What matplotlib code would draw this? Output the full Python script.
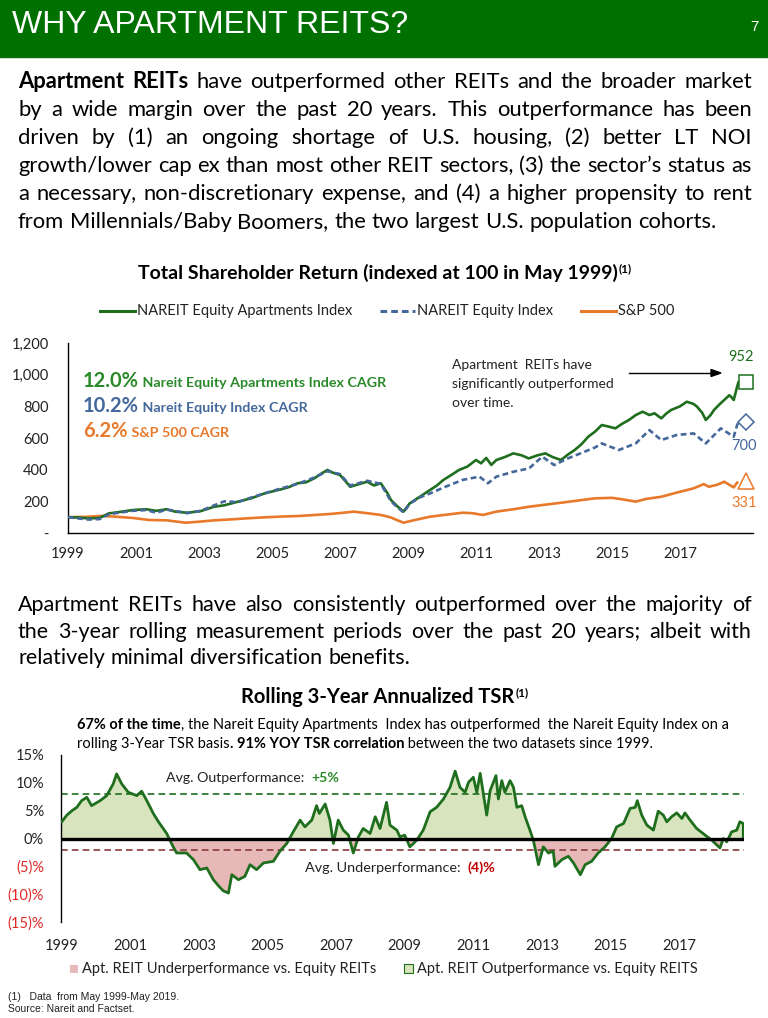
import numpy as np
import matplotlib.pyplot as plt
from matplotlib.patches import Rectangle
from matplotlib.lines import Line2D

W, H = 768, 1018
BODY = ["Lato", "DejaVu Sans"]
NARROW = ["Liberation Sans Narrow", "Liberation Sans", "DejaVu Sans"]

HDR_GREEN = "#007000"
APT_GREEN = "#1E6E1E"
TXT_GREEN = "#2A8A2A"
REIT_BLUE = "#44689C"
SP_ORANGE = "#E8792A"
NEG_RED = "#E02828"
DARK_RED = "#C00000"
FILL_GREEN = "#D7E4BD"
FILL_RED = "#E6B9B8"

# ---- chart 1: total shareholder return, indexed at 100 (x = decimal year) ----
apt_x = [1999.0, 1999.3, 1999.6, 1999.93, 2000.2, 2000.5, 2000.9, 2001.3, 2001.6, 2001.9,
         2002.15, 2002.5, 2002.9, 2003.3, 2003.6, 2004.0, 2004.4, 2004.78, 2005.0, 2005.27,
         2005.5, 2005.75, 2006.0, 2006.24, 2006.45, 2006.63, 2006.8, 2007.0, 2007.15, 2007.3,
         2007.5, 2007.8, 2008.0, 2008.2, 2008.4, 2008.5, 2008.7, 2008.87, 2009.05, 2009.35,
         2009.65, 2009.85, 2010.04, 2010.3, 2010.5, 2010.75, 2011.0, 2011.15, 2011.3, 2011.45,
         2011.6, 2011.85, 2012.1, 2012.35, 2012.55, 2012.8, 2013.04, 2013.25, 2013.5, 2013.7,
         2013.9, 2014.1, 2014.3, 2014.5, 2014.7, 2014.9, 2015.1, 2015.3, 2015.5, 2015.7,
         2015.9, 2016.1, 2016.25, 2016.45, 2016.6, 2016.74, 2017.0, 2017.2, 2017.4, 2017.5,
         2017.65, 2017.76, 2017.9, 2018.0, 2018.15, 2018.3, 2018.45, 2018.5, 2018.58, 2018.68,
         2018.72]
apt_v = [100, 98, 92, 95, 124, 132, 145, 150, 140, 150,
         135, 128, 138, 166, 175, 198, 220, 250, 262, 276,
         290, 314, 320, 345, 375, 398, 380, 366, 330, 292,
         305, 324, 300, 314, 250, 208, 166, 135, 187, 229,
         272, 300, 335, 370, 398, 420, 461, 440, 474, 430,
         461, 480, 503, 490, 471, 490, 503, 480, 461, 495,
         524, 560, 608, 640, 682, 672, 661, 690, 714, 745,
         766, 745, 756, 724, 755, 777, 800, 829, 815, 798,
         760, 714, 745, 777, 810, 840, 870, 861, 840, 924,
         952]

reit_x = [1999.0, 1999.3, 1999.6, 1999.93, 2000.2, 2000.5, 2000.9, 2001.3, 2001.6, 2001.9,
          2002.15, 2002.5, 2002.9, 2003.3, 2003.6, 2004.0, 2004.4, 2004.78, 2005.27, 2005.75,
          2006.24, 2006.63, 2007.0, 2007.3, 2007.8, 2008.2, 2008.5, 2008.7, 2008.87, 2009.05,
          2009.35, 2009.65, 2010.1, 2010.6, 2011.1, 2011.35, 2011.6, 2012.1, 2012.56, 2012.95,
          2013.3, 2013.7, 2014.2, 2014.5, 2014.7, 2015.2, 2015.7, 2016.1, 2016.45, 2016.9,
          2017.4, 2017.76, 2018.2, 2018.58, 2018.68, 2018.72]
reit_v = [100, 92, 85, 88, 118, 128, 140, 145, 128, 148,
          140, 125, 140, 175, 200, 195, 225, 250, 282, 310,
          350, 390, 372, 300, 330, 310, 200, 160, 130, 185,
          225, 250, 292, 335, 356, 314, 356, 387, 408, 482,
          429, 471, 514, 540, 566, 524, 566, 650, 587, 619,
          629, 566, 661, 608, 682, 700]

sp_x = [1999.0, 1999.5, 2000.0, 2000.4, 2000.9, 2001.4, 2001.9, 2002.46, 2002.84, 2003.3,
        2003.8, 2004.3, 2004.78, 2005.3, 2005.75, 2006.2, 2006.7, 2007.1, 2007.4, 2007.8,
        2008.2, 2008.5, 2008.67, 2008.87, 2009.2, 2009.65, 2010.1, 2010.6, 2010.9, 2011.2,
        2011.6, 2012.1, 2012.56, 2013.0, 2013.5, 2014.0, 2014.5, 2015.0, 2015.3, 2015.7,
        2016.0, 2016.45, 2016.9, 2017.4, 2017.7, 2017.85, 2018.1, 2018.3, 2018.58, 2018.68]
sp_v = [100, 102, 108, 103, 95, 82, 80, 65, 71, 80,
        86, 93, 99, 104, 107, 113, 120, 128, 135, 125,
        114, 98, 82, 65, 82, 103, 115, 128, 125, 114,
        135, 150, 166, 178, 191, 205, 219, 222, 213, 198,
        215, 229, 255, 282, 309, 292, 305, 324, 288, 318]

end_values = [952, 700, 331]
cagr_pct = ["12.0%", "10.2%", "6.2%"]
cagr_names = ["Nareit Equity Apartments Index CAGR", "Nareit Equity Index CAGR", "S&P 500 CAGR"]
series_names = ["NAREIT Equity Apartments Index", "NAREIT Equity Index", "S&P 500"]
tsr_ticks = [0, 200, 400, 600, 800, 1000, 1200]
tsr_tick_labels = ["-", "200", "400", "600", "800", "1,000", "1,200"]
year_ticks = list(range(1999, 2018, 2))

# ---- chart 2: rolling 3-year annualized TSR spread (%) ----
roll_x = [1999.0, 1999.15, 1999.3, 1999.44, 1999.58, 1999.73, 1999.87, 2000.12, 2000.31, 2000.5,
          2000.6, 2000.75, 2000.94, 2001.19, 2001.33, 2001.48, 2001.67, 2001.82, 2002.06, 2002.25,
          2002.35, 2002.64, 2002.84, 2003.03, 2003.23, 2003.42, 2003.57, 2003.71, 2003.86, 2003.96,
          2004.15, 2004.34, 2004.49, 2004.68, 2004.88, 2005.17, 2005.36, 2005.56, 2005.75, 2005.95,
          2006.09, 2006.29, 2006.43, 2006.51, 2006.68, 2006.82, 2006.92, 2007.06, 2007.21, 2007.36,
          2007.5, 2007.65, 2007.79, 2007.99, 2008.14, 2008.28, 2008.47, 2008.57, 2008.77, 2008.86,
          2009.0, 2009.15, 2009.35, 2009.54, 2009.74, 2009.93, 2010.13, 2010.32, 2010.47, 2010.61,
          2010.76, 2010.86, 2011.0, 2011.1, 2011.2, 2011.39, 2011.49, 2011.66, 2011.73, 2011.83,
          2011.92, 2012.07, 2012.17, 2012.27, 2012.41, 2012.51, 2012.65, 2012.75, 2012.9, 2013.04,
          2013.19, 2013.33, 2013.38, 2013.58, 2013.77, 2013.92, 2014.12, 2014.26, 2014.45, 2014.64,
          2014.84, 2015.03, 2015.18, 2015.38, 2015.57, 2015.72, 2015.78, 2015.91, 2016.06, 2016.25,
          2016.39, 2016.54, 2016.64, 2016.78, 2016.93, 2017.08, 2017.17, 2017.32, 2017.51, 2017.7,
          2017.95, 2018.19, 2018.29, 2018.39, 2018.53, 2018.68, 2018.77, 2018.87]
roll_v = [3.0, 4.2, 5.0, 5.6, 6.8, 7.4, 5.9, 6.8, 7.7, 9.8,
          11.6, 9.8, 8.3, 7.7, 8.5, 6.8, 4.5, 3.0, 0.9, -1.5,
          -2.6, -2.6, -3.8, -5.6, -5.3, -7.4, -8.5, -9.4, -9.8, -6.5,
          -7.4, -6.8, -4.7, -5.6, -4.4, -4.1, -2.3, -0.9, 1.2, 3.3,
          2.1, 3.3, 5.9, 4.5, 6.2, 3.3, -0.9, 3.3, 1.5, 0.6,
          -2.6, 0.3, 1.8, 0.9, 3.9, 1.8, 6.5, 2.4, 1.5, 0.3,
          0.6, -1.5, -0.3, 1.5, 4.8, 5.6, 7.1, 9.2, 12.1, 9.2,
          8.3, 10.1, 11.0, 8.3, 11.7, 4.2, 8.6, 11.3, 7.1, 10.4,
          8.3, 10.4, 9.2, 5.6, 5.9, 3.9, 1.5, -0.3, -4.7, -1.5,
          -2.6, -2.3, -5.0, -3.8, -3.2, -4.4, -6.5, -4.7, -4.1, -2.6,
          -1.5, 0.0, 2.1, 2.7, 5.4, 5.6, 6.8, 4.2, 2.4, 1.5,
          4.9, 4.2, 3.0, 3.9, 4.6, 3.6, 4.6, 3.3, 1.8, 0.9,
          -0.3, -1.7, 0.0, -0.6, 1.2, 1.5, 3.0, 2.7]
avg_out_line = 8.0
avg_under_line = -2.0
roll_ticks = [15, 10, 5, 0, -5, -10, -15]
roll_tick_labels = ["15%", "10%", "5%", "0%", "(5)%", "(10)%", "(15)%"]

para1 = [
    ("**Apartment **REITs have outperformed other REITs and the broader market", True),
    ("by a wide margin over the past 20 years. This outperformance has been", True),
    ("driven by (1) an ongoing shortage of U.S. housing, (2) better LT NOI", True),
    ("growth/lower cap ex than most other REIT sectors, (3) the sector\u2019s status as", True),
    ("a necessary, non-discretionary expense, and (4) a higher propensity to rent", True),
    ("from Millennials/Baby Boomers, the two largest U.S. population cohorts.", False),
]
para2 = [
    ("Apartment REITs have also consistently outperformed over the majority of", True),
    ("the 3-year rolling measurement periods over the past 20 years; albeit with", True),
    ("relatively minimal diversification benefits.", False),
]

fig = plt.figure(figsize=(W / 100, H / 100), dpi=100)
rend = fig.canvas.get_renderer()


def fx(x):
    return x / W


def fy(y):
    return 1 - y / H


def runs(x, y, pieces, ha="left"):
    # pieces: (text, size, bold, color, family) placed side by side on one baseline
    objs = []
    for txt, size, bold, color, fam in pieces:
        t = fig.text(0, fy(y), txt, fontsize=size, fontweight="bold" if bold else "normal",
                     color=color, family=fam, va="baseline", ha="left")
        objs.append(t)
    widths = [o.get_window_extent(rend).width for o in objs]
    total = sum(widths)
    if ha == "center":
        x = x - total / 2
    for o, w in zip(objs, widths):
        o.set_x(fx(x))
        x += w
    return x


def para_line(line, y, x0, x1, size, justify):
    words = line.split(" ")
    bold_first = False
    if words[0].startswith("**"):
        words = ["Apartment", "REITs"] + line.split("**")[2].split(" ")[1:]
        bold_first = True
    objs = []
    for i, w in enumerate(words):
        b = bold_first and i < 2
        objs.append(fig.text(0, fy(y), w, fontsize=size, fontweight="bold" if b else "normal",
                             color="black", family=BODY, va="baseline", ha="left"))
    widths = [o.get_window_extent(rend).width for o in objs]
    if justify:
        gap = (x1 - x0 - sum(widths)) / (len(words) - 1)
    else:
        a = fig.text(0, 0, "a a", fontsize=size, family=BODY)
        b = fig.text(0, 0, "aa", fontsize=size, family=BODY)
        gap = a.get_window_extent(rend).width - b.get_window_extent(rend).width
        a.remove()
        b.remove()
    x = x0
    for o, w in zip(objs, widths):
        o.set_x(fx(x))
        x += w + gap


# header bar
fig.patches.append(Rectangle((0, fy(57)), 1, 57 / H, transform=fig.transFigure,
                             color=HDR_GREEN, zorder=0))
fig.text(fx(12), fy(25), "WHY APARTMENT REITS?", color="white", fontsize=23,
         family=NARROW, va="center", ha="left")
fig.text(fx(754), fy(27), "7", color="white", fontsize=11, family=NARROW,
         va="center", ha="center")

# paragraphs
for i, (line, just) in enumerate(para1):
    para_line(line, 88 + 28 * i, 18, 752, 15.8, just)
for i, (line, just) in enumerate(para2):
    para_line(line, 611 + 26.5 * i, 18, 752, 15.5, just)

# ---- chart 1 ----
ax1 = fig.add_axes([fx(68), fy(533), fx(753 - 68), (533 - 343) / H])
ax1.plot(sp_x, sp_v, color=SP_ORANGE, lw=1.9, zorder=2)
ax1.plot(apt_x, apt_v, color=APT_GREEN, lw=1.9, zorder=3)
ax1.plot(reit_x, reit_v, color=REIT_BLUE, lw=1.9, ls=(0, (2.2, 1.3)), zorder=4)
end_x = 2018.93
ax1.plot([end_x], [end_values[0]], marker="s", ms=10, mfc="white", mec=APT_GREEN, mew=1.1, clip_on=False, zorder=5)
ax1.plot([end_x], [end_values[1]], marker="D", ms=8, mfc="white", mec=REIT_BLUE, mew=1.1, clip_on=False, zorder=5)
ax1.plot([end_x], [end_values[2]], marker="^", ms=11, mfc="white", mec=SP_ORANGE, mew=1.1, clip_on=False, zorder=5)
ax1.text(end_x - 0.15, end_values[0] + 160, str(end_values[0]), color=APT_GREEN, fontsize=10.5, family=BODY, ha="center", va="center")
ax1.text(end_x - 0.05, end_values[1] - 150, str(end_values[1]), color=REIT_BLUE, fontsize=10.5, family=BODY, ha="center", va="center")
ax1.text(end_x - 0.05, end_values[2] - 140, str(end_values[2]), color=SP_ORANGE, fontsize=10.5, family=BODY, ha="center", va="center")
ax1.set_xlim(1999, 1999 + (753 - 68) / 34.0)
ax1.set_ylim(0, 1200)
ax1.set_xticks(year_ticks)
ax1.set_xticklabels([str(y) for y in year_ticks])
ax1.set_yticks(tsr_ticks)
ax1.set_yticklabels(tsr_tick_labels)
ax1.tick_params(length=0, labelsize=10.5, colors="#222222")
ax1.tick_params(axis="x", pad=10)
ax1.tick_params(axis="y", pad=14)
for lab in ax1.get_xticklabels() + ax1.get_yticklabels():
    lab.set_family(BODY)
for s in ["top", "right"]:
    ax1.spines[s].set_visible(False)
for s in ["left", "bottom"]:
    ax1.spines[s].set_linewidth(1.0)
    ax1.spines[s].set_color("black")
ax1.patch.set_alpha(0)

# chart 1 title and legend
xe = runs(378, 279, [("Total Shareholder Return (indexed at 100 in May 1999)", 14, True, "black", BODY)], ha="center")
runs(xe + 1, 272, [("(1)", 8.5, True, "black", BODY)])
leg_items = [(100, APT_GREEN, "-"), (380, REIT_BLUE, (0, (2.2, 1.3))), (581, SP_ORANGE, "-")]
for (lx, c, ls), name in zip(leg_items, series_names):
    fig.add_artist(Line2D([fx(lx), fx(lx + 35)], [fy(311), fy(311)], color=c, lw=2.2, ls=ls,
                          transform=fig.transFigure))
    runs(lx + 37, 315, [(name, 10.5, False, "#222222", BODY)])

# CAGR notes
cagr_colors = [TXT_GREEN, REIT_BLUE, SP_ORANGE]
for i in range(3):
    runs(83, 387 + 25 * i, [(cagr_pct[i], 14.5, True, cagr_colors[i], BODY),
                            (" " + cagr_names[i], 10.3, True, cagr_colors[i], BODY)])

# call-out
for i, line in enumerate(["Apartment  REITs have", "significantly outperformed", "over time."]):
    runs(452, 369 + 19 * i, [(line, 10, False, "#222222", BODY)])
fig.add_artist(Line2D([fx(629), fx(712)], [fy(373), fy(373)], color="black", lw=1,
                      transform=fig.transFigure))
fig.patches.append(plt.Polygon([[fx(711), fy(369.5)], [fx(721), fy(373)], [fx(711), fy(376.5)]],
                               closed=True, color="black", transform=fig.transFigure))

# ---- chart 2 ----
xr = np.array(roll_x)
vr = np.array(roll_v)
ax2 = fig.add_axes([fx(60.7), fy(922), fx(744 - 60.7), (922 - 755) / H])
ax2.fill_between(xr, vr, 0, where=vr >= 0, interpolate=True, color=FILL_GREEN, lw=0, zorder=1)
ax2.fill_between(xr, vr, 0, where=vr <= 0, interpolate=True, color=FILL_RED, lw=0, zorder=1)
ax2.plot(np.r_[xr, xr[-1]], np.r_[vr, 0], color=APT_GREEN, lw=2.0, zorder=3)
ax2.axhline(0, color="black", lw=2.4, zorder=4)
ax2.axhline(avg_out_line, color=APT_GREEN, lw=1.2, ls=(0, (4, 2.5)), zorder=2)
ax2.axhline(avg_under_line, color="#8B3A3A", lw=1.2, ls=(0, (4, 2.5)), zorder=2)
ax2.set_xlim(1998.97, 1998.97 + (744 - 60.7) / 34.3)
ax2.set_ylim(-15, 15)
ax2.set_xticks(year_ticks)
ax2.set_xticklabels([str(y) for y in year_ticks])
ax2.set_yticks(roll_ticks)
ax2.set_yticklabels(roll_tick_labels)
ax2.tick_params(length=0, labelsize=10.5, colors="#222222")
ax2.tick_params(axis="x", pad=12)
ax2.tick_params(axis="y", pad=12)
for lab, v in zip(ax2.get_yticklabels(), roll_ticks):
    lab.set_color(NEG_RED if v < 0 else "#222222")
for lab in ax2.get_xticklabels() + ax2.get_yticklabels():
    lab.set_family(BODY)
for s in ["top", "right", "bottom"]:
    ax2.spines[s].set_visible(False)
ax2.spines["left"].set_linewidth(1.0)
ax2.spines["left"].set_color("black")
ax2.patch.set_alpha(0)

xe = runs(378, 703, [("Rolling 3-Year Annualized TSR", 14.5, True, "black", BODY)], ha="center")
runs(xe + 1, 696, [("(1)", 8.5, True, "black", BODY)])
runs(77, 729, [("67% of the time", 10.5, True, "black", BODY),
               (", the Nareit Equity Apartments  Index has outperformed  the Nareit Equity Index on a", 10.5, False, "black", BODY)])
runs(77, 748, [("rolling 3-Year TSR basis", 10.5, False, "black", BODY),
               (". 91% YOY TSR correlation", 10.5, True, "black", BODY),
               (" between the two datasets since 1999.", 10.5, False, "black", BODY)])
runs(166, 782, [("Avg. Outperformance:  ", 10.2, False, "#222222", BODY),
                ("+5%", 10.2, True, TXT_GREEN, BODY)])
runs(305, 872, [("Avg. Underperformance:  ", 10.4, False, "#222222", BODY),
                ("(4)%", 10.4, True, DARK_RED, BODY)])

# chart 2 legend
fig.patches.append(Rectangle((fx(70), fy(973)), 8 / W, 8 / H, transform=fig.transFigure,
                             facecolor=FILL_RED, edgecolor="none"))
runs(82, 973, [("Apt. REIT Underperformance vs. Equity REITs", 10.5, False, "#222222", BODY)])
fig.patches.append(Rectangle((fx(404), fy(973)), 9 / W, 9 / H, transform=fig.transFigure,
                             facecolor=FILL_GREEN, edgecolor=APT_GREEN, lw=0.8))
runs(417, 973, [("Apt. REIT Outperformance vs. Equity REITS", 10.5, False, "#222222", BODY)])

# footnotes
runs(8, 1000, [("(1)   Data  from May 1999-May 2019.", 7.5, False, "#222222", NARROW)])
runs(8, 1012, [("Source: Nareit and Factset.", 7.5, False, "#222222", NARROW)])

fig.savefig("out.png", dpi=100)
